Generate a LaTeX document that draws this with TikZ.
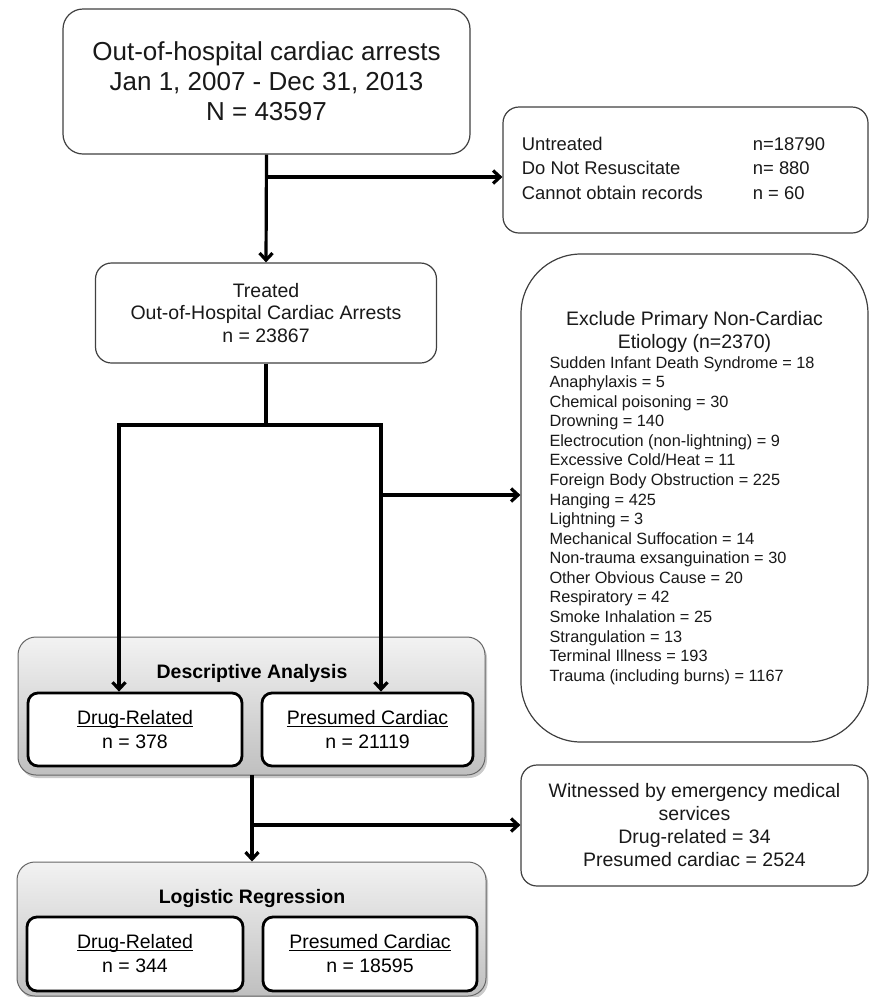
\documentclass[tikz,border=0pt]{standalone}
\usepackage{fontspec}
\setmainfont{Liberation Sans}
\usetikzlibrary{arrows.meta,shadows}
\newcommand{\ulbase}[1]{\underline{\raisebox{0pt}[\height][0pt]{#1}}}
\begin{document}
\begin{tikzpicture}[x=1pt,y=-1pt,
  flowbox/.style={draw=black!75, line width=1.2pt, fill=white, align=center, inner sep=0pt, text=black!90},
  arr/.style={line width=3.2pt, -{Straight Barb[length=7pt,width=13pt]}},
  ln/.style={line width=3.2pt},
  group/.style={draw=black!60, line width=1pt, rounded corners=18pt, top color=black!5, bottom color=black!25, drop shadow={shadow xshift=2pt, shadow yshift=-3pt, opacity=0.35, fill=black!60}, inner sep=0pt},
  inbox/.style={draw=black, line width=2.8pt, rounded corners=10pt, fill=white, align=center, inner sep=0pt, font=\fontsize{19.5}{24}\selectfont},
  grouptitle/.style={font=\bfseries\fontsize{19.5}{23}\selectfont, inner sep=0pt}
]
\useasboundingbox (0,0) rectangle (869,997);

% top box
\node[flowbox, rounded corners=20pt, minimum width=407pt, minimum height=145pt,
  font=\fontsize{26}{30}\selectfont] (top) at (266.5,81.5)
  {Out-of-hospital cardiac arrests\\Jan 1, 2007 - Dec 31, 2013\\N = 43597};

% untreated box
\node[flowbox, rounded corners=16pt, minimum width=365pt, minimum height=126pt,
  font=\fontsize{18.4}{24.5}\selectfont] (untr) at (685.5,170)
  {\begin{tabular}{@{}p{231pt}@{}l@{\hspace{24pt}}}
   Untreated & n=18790\\
   Do Not Resuscitate & n= 880\\
   Cannot obtain records & n = 60
   \end{tabular}};

% treated box
\node[flowbox, rounded corners=16pt, minimum width=341pt, minimum height=100pt,
  font=\fontsize{19.5}{22.5}\selectfont] (treat) at (266,313)
  {Treated\\Out-of-Hospital Cardiac Arrests\\n = 23867};

% exclusion box
\node[flowbox, rounded corners=60pt, minimum width=347pt, minimum height=488pt] (excl) at (694.5,498)
  {\parbox{290pt}{\centering\fontsize{19.5}{23}\selectfont
   Exclude Primary Non-Cardiac\\Etiology (n=2370)\par
   \raggedright\fontsize{16.3}{19.56}\selectfont
   Sudden Infant Death Syndrome = 18\\
   Anaphylaxis = 5\\
   Chemical poisoning = 30\\
   Drowning = 140\\
   Electrocution (non-lightning) = 9\\
   Excessive Cold/Heat = 11\\
   Foreign Body Obstruction = 225\\
   Hanging = 425\\
   Lightning = 3\\
   Mechanical Suffocation = 14\\
   Non-trauma exsanguination = 30\\
   Other Obvious Cause = 20\\
   Respiratory = 42\\
   Smoke Inhalation = 25\\
   Strangulation = 13\\
   Terminal Illness = 193\\
   Trauma (including burns) = 1167\par}};

% descriptive analysis group
\node[group, minimum width=467pt, minimum height=138pt] (desc) at (251.5,706) {};
\node[grouptitle] (desct) at (252,673) {Descriptive Analysis};
\node[inbox, minimum width=214pt, minimum height=73pt] (ddrug) at (135,729.5)
  {\ulbase{Drug-Related}\\n = 378};
\node[inbox, minimum width=211pt, minimum height=73pt] (dcard) at (367.5,729.5)
  {\ulbase{Presumed Cardiac}\\n = 21119};

% witnessed box
\node[flowbox, rounded corners=16pt, minimum width=347pt, minimum height=121pt,
  font=\fontsize{19.5}{23}\selectfont] (wit) at (694.5,825.5)
  {Witnessed by emergency medical\\services\\Drug-related = 34\\Presumed cardiac = 2524};

% logistic regression group
\node[group, minimum width=469pt, minimum height=134pt] (logi) at (251.5,929) {};
\node[grouptitle] (logit) at (252,898) {Logistic Regression};
\node[inbox, minimum width=216pt, minimum height=74pt] (ldrug) at (135,954)
  {\ulbase{Drug-Related}\\n = 344};
\node[inbox, minimum width=214pt, minimum height=74pt] (lcard) at (370,954)
  {\ulbase{Presumed Cardiac}\\n = 18595};

% connectors
\draw[arr] (top.south) -- (treat.north);
\coordinate (b1) at (266,177);
\draw[arr] (b1) -- (b1 -| untr.west);

\coordinate (t1) at (266,425);
\coordinate (sl) at (119,425);
\coordinate (sr) at (381,425);
\draw[ln] (treat.south) -- (t1);
\draw[ln, line cap=rect] (sl) -- (sr);
\draw[arr] (sl) -- (sl |- ddrug.north);
\draw[arr] (sr) -- (sr |- dcard.north);
\coordinate (b2) at (381,495);
\draw[arr] (b2) -- (b2 -| excl.west);

\coordinate (d1) at (252,775);
\draw[arr] (d1) -- (d1 |- logi.north);
\coordinate (b3) at (252,825);
\draw[arr] (b3) -- (b3 -| wit.west);
\end{tikzpicture}
\end{document}
